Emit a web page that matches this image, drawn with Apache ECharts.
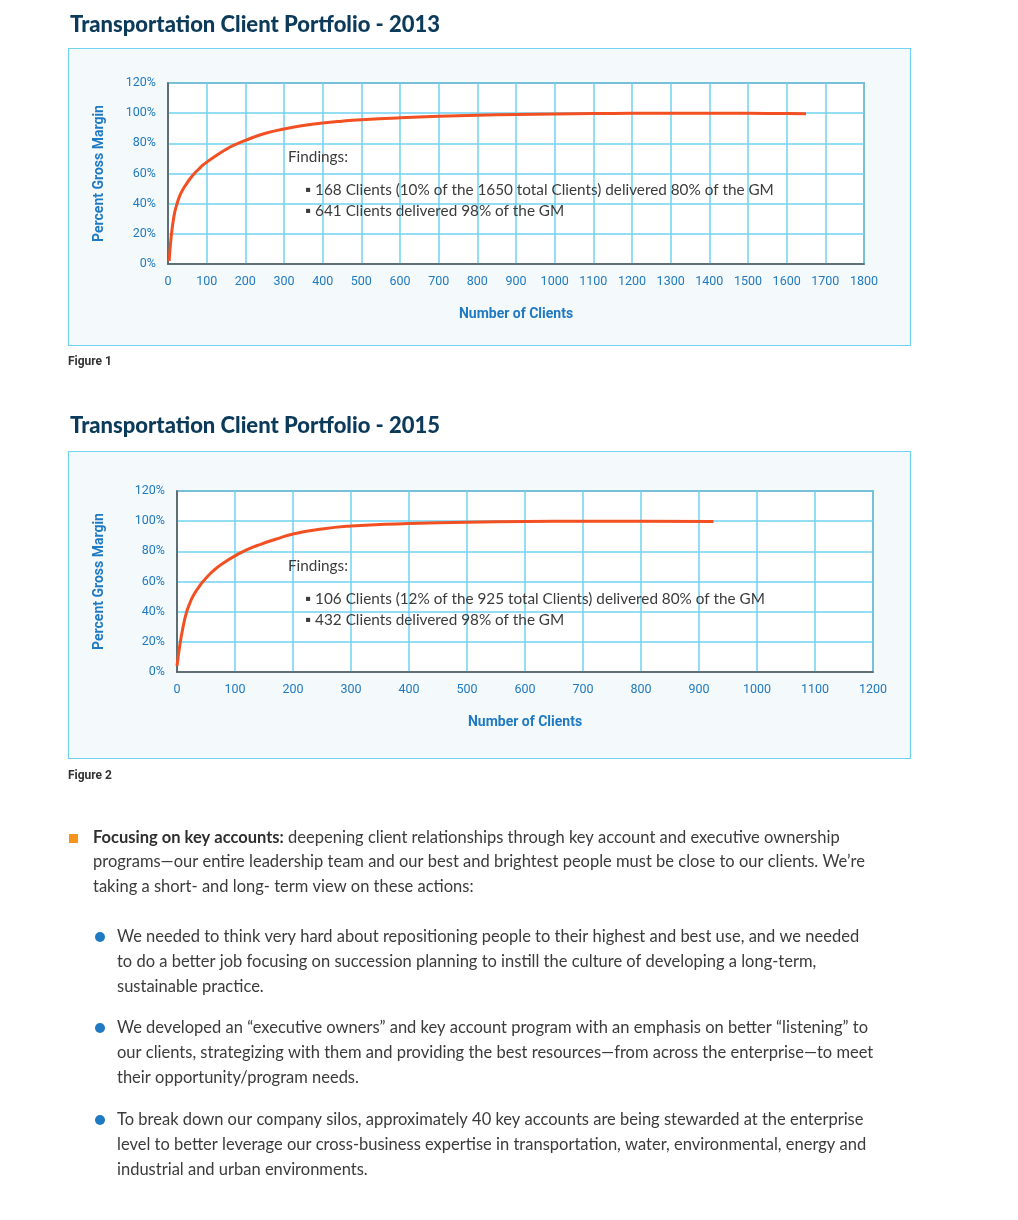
<!DOCTYPE html>
<html><head><meta charset="utf-8">
<script src="https://cdn.jsdelivr.net/npm/echarts@6/dist/echarts.min.js"></script>
<style>html,body{margin:0;padding:0;background:#fff}#c{width:1018px;height:1220px}</style>
</head><body><div id="c"></div>
<script>
// ---- data ----
const titles = ['Transportation Client Portfolio - 2013', 'Transportation Client Portfolio - 2015'];
const figureLabels = ['Figure 1', 'Figure 2'];
const clients2013 = [3, 6, 10, 15, 20, 30, 40, 50, 60, 70, 80, 90, 100, 125, 150, 168, 200, 250, 300, 350, 400, 450, 500, 600, 700, 800, 900, 1000, 1100, 1200, 1300, 1400, 1500, 1600, 1650];
const gm2013 = [2, 12, 22, 31, 37, 45, 50, 54, 57.5, 60.5, 63, 65.5, 67.5, 72, 76, 78.5, 82, 86.5, 89.5, 91.8, 93.5, 94.7, 95.6, 96.9, 97.9, 98.6, 99.1, 99.5, 99.7, 99.9, 100, 100, 99.9, 99.7, 99.6];
const clients2015 = [0, 5, 10, 16, 22, 28, 37, 46, 58, 70, 85, 100, 120, 143, 170, 200, 250, 300, 350, 400, 500, 600, 700, 800, 925];
const gm2015 = [4, 18, 29, 39, 45.5, 50.5, 56, 60.5, 65.5, 69.5, 73.5, 77, 81, 84.5, 88, 91.5, 94.8, 96.8, 97.8, 98.5, 99.3, 99.8, 100, 100, 99.7];
const xMax = [1800, 1200];
const yTickMax = 120;
const findings2013 = ['Findings:', '▪ 168 Clients (10% of the 1650 total Clients) delivered 80% of the GM', '▪ 641 Clients delivered 98% of the GM'];
const findings2015 = ['Findings:', '▪ 106 Clients (12% of the 925 total Clients) delivered 80% of the GM', '▪ 432 Clients delivered 98% of the GM'];
const xAxisName = 'Number of Clients';
const yAxisName = 'Percent Gross Margin';
const introBold = 'Focusing on key accounts:';
const introLines = [' deepening client relationships through key account and executive ownership',
  'programs—our entire leadership team and our best and brightest people must be close to our clients. We’re',
  'taking a short- and long- term view on these actions:'];
const bullets = [
  ['We needed to think very hard about repositioning people to their highest and best use, and we needed',
   'to do a better job focusing on succession planning to instill the culture of developing a long-term,',
   'sustainable practice.'],
  ['We developed an “executive owners” and key account program with an emphasis on better “listening” to',
   'our clients, strategizing with them and providing the best resources—from across the enterprise—to meet',
   'their opportunity/program needs.'],
  ['To break down our company silos, approximately 40 key accounts are being stewarded at the enterprise',
   'level to better leverage our cross-business expertise in transportation, water, environmental, energy and',
   'industrial and urban environments.']
];

// ---- styles ----
const blue = '#1f7ac2';
const gridBlue = '#6fd2f2';
const narrow = 'Roboto, sans-serif';
const body = 'Lato, "Noto Sans", sans-serif';
const textCol = '#3b3b3b';

const grids = [
  {left: 168, top: 83, width: 696, height: 181},
  {left: 177, top: 491, width: 696, height: 181}
];

function xAx(i){
  return {gridIndex: i, type: 'value', min: 0, max: xMax[i], interval: 100,
    name: xAxisName, nameLocation: 'middle', nameGap: 43,
    nameTextStyle: {color: blue, fontFamily: narrow, fontWeight: 'bold', fontSize: 14},
    axisLine: {show: true, lineStyle: {color: '#555', width: 1.5}},
    axisTick: {show: false},
    axisLabel: {color: blue, fontFamily: narrow, fontSize: 12.5, margin: 11, formatter: v => String(v)},
    splitLine: {show: true, lineStyle: {color: gridBlue, width: 1.5}}};
}
function yAx(i){
  return {gridIndex: i, type: 'value', min: 0, max: yTickMax, interval: 20,
    name: yAxisName, nameLocation: 'middle', nameGap: i === 0 ? 62 : 71, nameRotate: 90,
    nameTextStyle: {color: blue, fontFamily: narrow, fontWeight: 'bold', fontSize: 14},
    axisLine: {show: true, lineStyle: {color: '#555', width: 1.5}},
    axisTick: {show: false},
    axisLabel: {color: blue, fontFamily: narrow, fontSize: 12.5, margin: 12, formatter: '{value}%'},
    splitLine: {show: true, lineStyle: {color: gridBlue, width: 1.5}}};
}

const graphics = [];
// boxes
graphics.push({type: 'rect', z: -10, shape: {x: 68.5, y: 48.5, width: 842, height: 297}, style: {fill: '#f4f9fc', stroke: '#72d3f1', lineWidth: 1.2}});
graphics.push({type: 'rect', z: -10, shape: {x: 68.5, y: 451.5, width: 842, height: 307}, style: {fill: '#f4f9fc', stroke: '#72d3f1', lineWidth: 1.2}});
// titles
[24, 425].forEach((y, i) => graphics.push({type: 'text', left: 70, top: y - 10, style: {text: titles[i], fill: '#0c3a5b', font: '900 22px ' + body}}));
[362, 776].forEach((y, i) => graphics.push({type: 'text', left: 68, top: y - 6, style: {text: figureLabels[i], fill: '#333', font: 'bold 12px ' + narrow}}));
// findings
function addFindings(arr, y0){
  graphics.push({type: 'text', z: 100, left: 288, top: y0 - 9, style: {text: arr[0], fill: textCol, font: '15.3px ' + body}});
  graphics.push({type: 'text', z: 100, left: 305, top: y0 + 24, style: {text: arr[1], fill: textCol, font: '15.3px ' + body}});
  graphics.push({type: 'text', z: 100, left: 305, top: y0 + 45, style: {text: arr[2], fill: textCol, font: '15.3px ' + body}});
}
addFindings(findings2013, 159);
addFindings(findings2015, 568);
// intro paragraph
graphics.push({type: 'rect', shape: {x: 69, y: 834, width: 9, height: 9}, style: {fill: '#f7941d'}});
graphics.push({type: 'text', left: 93, top: 829, style: {text: '{b|' + introBold + '}' + introLines[0], rich: {b: {fontWeight: 'bold', fontFamily: body, fontSize: 16.5, fill: '#2e2e2e'}}, fill: textCol, font: '16.5px ' + body}});
graphics.push({type: 'text', left: 93, top: 853.5, style: {text: introLines[1], fill: textCol, font: '16.5px ' + body}});
graphics.push({type: 'text', left: 93, top: 878, style: {text: introLines[2], fill: textCol, font: '16.5px ' + body}});
const bulletY = [938, 1029, 1121];
bullets.forEach((lines, bi) => {
  graphics.push({type: 'circle', shape: {cx: 100, cy: bulletY[bi] - 1, r: 5}, style: {fill: '#1f7ac2'}});
  lines.forEach((ln, li) => graphics.push({type: 'text', left: 117, top: bulletY[bi] - 10 + li * 25.3, style: {text: ln, fill: textCol, font: '16.5px ' + body}}));
});

const chart = echarts.init(document.getElementById('c'), null, {renderer: 'canvas'});
chart.setOption({
  animation: false,
  backgroundColor: '#fff',
  grid: grids.map(g => Object.assign({show: true, backgroundColor: '#fff', borderColor: '#666', borderWidth: 1.5, containLabel: false}, g)),
  xAxis: [xAx(0), xAx(1)],
  yAxis: [yAx(0), yAx(1)],
  series: [
    {type: 'line', xAxisIndex: 0, yAxisIndex: 0, smooth: 0.5, showSymbol: false, lineStyle: {color: '#f25022', width: 3}, data: clients2013.map((c, k) => [c, gm2013[k]])},
    {type: 'line', xAxisIndex: 1, yAxisIndex: 1, smooth: 0.5, showSymbol: false, lineStyle: {color: '#f25022', width: 3}, data: clients2015.map((c, k) => [c, gm2015[k]])}
  ],
  graphic: graphics
});
</script>
</body></html>
